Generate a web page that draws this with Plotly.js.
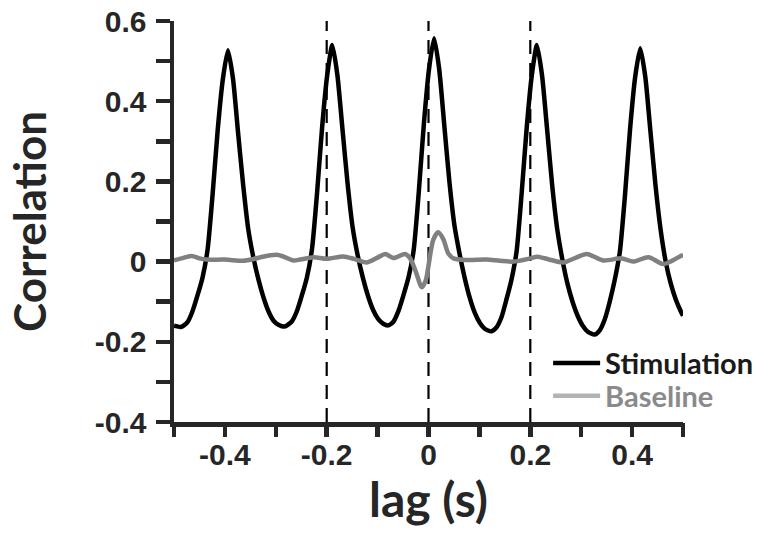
<!DOCTYPE html>
<html>
<head>
<meta charset="utf-8">
<script src="https://cdn.plot.ly/plotly-3.0.1.min.js"></script>
<style>html,body{margin:0;padding:0;background:#fff}#chart{width:771px;height:537px}</style>
</head>
<body>
<div id="chart"></div>
<script>
// Stimulation cross-correlation (black)
const stimLag = [-0.5,-0.486,-0.474,-0.464,-0.454,-0.444,-0.434,-0.424,-0.414,-0.404,-0.394,-0.384,-0.374,-0.364,-0.354,-0.344,-0.334,-0.324,-0.314,-0.304,-0.294,
  -0.283,-0.269,-0.259,-0.249,-0.239,-0.229,-0.219,-0.209,-0.199,-0.189,-0.179,-0.169,-0.159,-0.149,-0.139,-0.129,-0.119,-0.109,-0.099,-0.089,
  -0.079,-0.069,-0.059,-0.049,-0.039,-0.029,-0.019,-0.009,0.001,0.011,0.021,0.031,0.041,0.051,0.061,0.071,0.081,0.091,0.101,0.111,
  0.123,0.133,0.143,0.153,0.163,0.173,0.183,0.193,0.203,0.213,0.223,0.233,0.243,0.253,0.263,0.273,0.283,0.293,0.303,0.313,
  0.326,0.336,0.346,0.356,0.366,0.376,0.386,0.396,0.406,0.416,0.426,0.436,0.446,0.456,0.466,0.476,0.486,0.496,0.5];
const stimCorr = [-0.16,-0.163,-0.152,-0.125,-0.085,-0.04,0.03,0.17,0.33,0.455,0.527,0.455,0.32,0.19,0.08,0.01,-0.045,-0.09,-0.125,-0.148,-0.158,
  -0.162,-0.15,-0.125,-0.085,-0.04,0.03,0.17,0.335,0.465,0.54,0.465,0.33,0.195,0.085,0.015,-0.04,-0.085,-0.12,-0.143,-0.155,
  -0.159,-0.15,-0.123,-0.083,-0.038,0.03,0.175,0.345,0.48,0.557,0.48,0.34,0.2,0.09,0.02,-0.04,-0.09,-0.128,-0.153,-0.168,
  -0.174,-0.165,-0.14,-0.095,-0.045,0.025,0.17,0.335,0.465,0.54,0.465,0.33,0.19,0.08,0.005,-0.055,-0.1,-0.135,-0.16,-0.175,
  -0.182,-0.172,-0.145,-0.1,-0.045,0.025,0.165,0.33,0.46,0.532,0.46,0.325,0.19,0.08,0.0,-0.055,-0.095,-0.125,-0.135];

// Baseline cross-correlation (gray)
const baseLag = [-0.5,-0.48,-0.465,-0.45,-0.436,-0.4,-0.364,-0.345,-0.33,-0.298,-0.28,-0.266,-0.252,-0.226,-0.2,-0.167,-0.145,-0.121,-0.1,-0.085,
  -0.069,-0.046,-0.036,-0.025,-0.013,-0.005,0.0,0.0095,0.019,0.029,0.039,0.049,0.075,0.114,0.14,0.167,0.2,0.213,0.235,0.265,
  0.29,0.311,0.343,0.38,0.402,0.432,0.461,0.48,0.497,0.5];
const baseCorr = [0.003,0.01,0.014,0.008,0.005,0.005,0.002,0.006,0.011,0.017,0.01,0.003,0.005,0.011,0.007,0.013,0.006,-0.002,0.01,0.019,
  0.009,0.019,0.008,-0.025,-0.064,-0.045,-0.01,0.055,0.073,0.056,0.02,0.008,0.004,0.005,0.002,0.0,0.008,0.012,0.006,-0.002,
  0.01,0.019,0.003,0.008,0.0,0.011,-0.006,0.003,0.015,0.016];

// Reference dashed lags
const markLags = [-0.2, 0, 0.2];

// Ticks
const xTickVals = [-0.5,-0.4,-0.3,-0.2,-0.1,0,0.1,0.2,0.3,0.4,0.5];
const xTickText = ['','-0.4','','-0.2','','0','','0.2','','0.4',''];
const yTickVals = [-0.4,-0.3,-0.2,-0.1,0,0.1,0.2,0.3,0.4,0.5,0.6];
const yTickText = ['-0.4','','-0.2','','0','','0.2','','0.4','','0.6'];

const axisColor = '#262626';
const tickFont = {family:'Liberation Sans, Arial, sans-serif', size:30, color:axisColor, weight:'bold'};
const yTitleFont = {family:'Lato, sans-serif', size:44, color:axisColor, weight:'bold'};
const xTitleFont = {family:'Lato, sans-serif', size:48, color:axisColor, weight:'bold'};
const legendFont = {family:'Lato, sans-serif', size:29, color:'#1a1a1a', weight:'bold'};

const traces = [
  {x: stimLag, y: stimCorr, type:'scatter', mode:'lines', line:{color:'#000000', width:4.5, shape:'spline', smoothing:0.6}, showlegend:false, hoverinfo:'skip'},
  {x: baseLag, y: baseCorr, type:'scatter', mode:'lines', line:{color:'#808080', width:4.5, shape:'spline', smoothing:0.8}, showlegend:false, hoverinfo:'skip'},
  {x:[null], y:[null], type:'scatter', mode:'lines', line:{color:'#000000', width:4.5}, name:'<span style="color:#1a1a1a">Stimulation</span>', legend:'legend'},
  {x:[null], y:[null], type:'scatter', mode:'lines', line:{color:'#b3b3b3', width:4.5}, name:'<span style="color:#8a8a8a">Baseline</span>', legend:'legend2'},
  // invisible trace on the tick-only axis so it gets drawn
  {x:[null], y:[null], xaxis:'x2', type:'scatter', mode:'lines', showlegend:false, hoverinfo:'skip'}
];

const shapes = markLags.map(v => ({type:'line', xref:'x', yref:'y', x0:v, x1:v, y0:-0.4, y1:0.6, layer:'below',
  line:{color:'#000000', width:2.2, dash:'14px,9px'}}));

const legendBase = {xanchor:'left', yanchor:'middle', bgcolor:'rgba(0,0,0,0)', font:legendFont, itemwidth:47, borderwidth:0};

const layout = {
  width:771, height:537,
  margin:{l:174, r:88, t:21, b:115, autoexpand:false},
  paper_bgcolor:'#ffffff', plot_bgcolor:'#ffffff',
  showlegend:true,
  legend:Object.assign({}, legendBase, {x:0.735, y:0.147}),
  legend2:Object.assign({}, legendBase, {x:0.735, y:0.065}),
  xaxis:{range:[-0.5,0.5], tickmode:'array', tickvals:xTickVals, ticktext:xTickText,
    showgrid:false, zeroline:false, showline:true, linecolor:axisColor, linewidth:4.5,
    ticks:'', tickfont:tickFont, ticklabelstandoff:2,
    title:{text:'lag (s)', font:xTitleFont, standoff:8}, automargin:false, fixedrange:true},
  xaxis2:{range:[-0.5,0.5], overlaying:'x', anchor:'y', side:'bottom', tickmode:'array', tickvals:xTickVals,
    showticklabels:false, showgrid:false, zeroline:false, showline:false,
    ticks:'outside', ticklen:14, tickwidth:4.5, tickcolor:axisColor, automargin:false, fixedrange:true},
  yaxis:{range:[-0.4,0.6], tickmode:'array', tickvals:yTickVals, ticktext:yTickText,
    showgrid:false, zeroline:false, showline:true, linecolor:axisColor, linewidth:4.5,
    ticks:'outside', ticklen:14, tickwidth:4.5, tickcolor:axisColor, tickfont:tickFont, ticklabelstandoff:3,
    title:{text:'Correlation', font:yTitleFont, standoff:36}, automargin:false, fixedrange:true},
  shapes: shapes
};

Plotly.newPlot('chart', traces, layout, {displayModeBar:false, staticPlot:true});
</script>
</body>
</html>
